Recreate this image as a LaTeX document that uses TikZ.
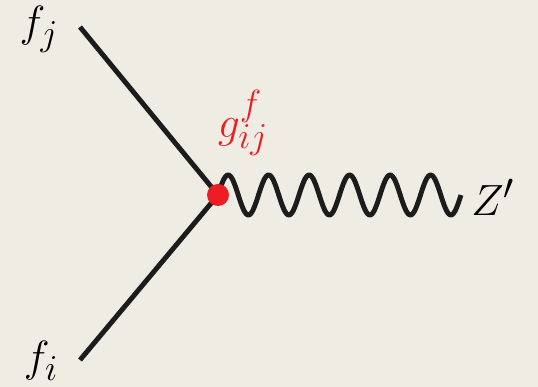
\documentclass[tikz,border=0pt]{standalone}
\usepackage{tikz}

\definecolor{fundo}{HTML}{EFECE4}
\definecolor{vermelho}{HTML}{EE1C25}
\definecolor{traco}{HTML}{1C1C1C}

\begin{document}
\begin{tikzpicture}[
  linha/.style={draw=traco, line width=2.8pt},
  onda/.style={draw=traco, line width=2.8pt, line join=round},
  rotulo/.style={font=\fontsize{28}{33}\selectfont},
  every node/.style={inner sep=0pt}
]

% Parâmetros gerais
\def\largura{10.76}  % largura da figura
\def\altura{7.74}    % altura da figura
\def\periodo{0.81}   % período da onda
\def\amplit{0.40}    % amplitude da onda

% ==========================================================
% Fundo
% ==========================================================
\fill[fundo] (0,0) rectangle (\largura,\altura);
\useasboundingbox (0,0) rectangle (\largura,\altura);

% ==========================================================
% Vértice e extremidades
% ==========================================================
\coordinate (vertice) at (4.36,3.84);
\coordinate (fjfim) at (1.60,7.20);
\coordinate (fifim) at (1.60,0.54);

\draw[linha] (fjfim) -- (vertice);
\draw[linha] (fifim) -- (vertice);

% onda do Z' (seis períodos)
\draw[onda, shift={(vertice)}]
  plot[domain=0:6*\periodo, samples=241, smooth]
  ({\x},{\amplit*sin(\x/\periodo*360)});

\fill[vermelho] (vertice) circle (0.22);

% ==========================================================
% Rótulos
% ==========================================================
\node[rotulo] (fj) at (0.78,7.16) {$f_j$};
\node[rotulo] (fi) at (0.82,0.52) {$f_i$};
\node[rotulo, text=vermelho] (acopl) at (4.86,5.28) {$g_{ij}^{f}$};
\node[rotulo] (zlinha) at (9.86,3.80) {$Z'$};

\end{tikzpicture}
\end{document}
